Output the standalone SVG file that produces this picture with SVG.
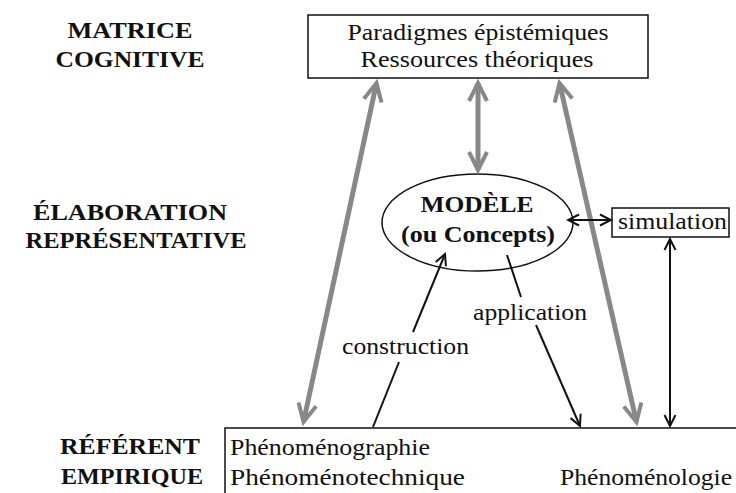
<svg xmlns="http://www.w3.org/2000/svg" width="736" height="493" viewBox="0 0 736 493">
<style>
  text { font-family: "Liberation Serif", Tinos, "Times New Roman", "Nimbus Roman", serif; fill: #111; }
  .b { font-weight: bold; }
  .box { fill: #fff; stroke: #111; stroke-width: 1.5; }
  .g { stroke: #888; stroke-width: 5; fill: none; }
  .k { stroke: #111; stroke-width: 2; fill: none; }
</style>
<defs>
  <marker id="ga" markerUnits="userSpaceOnUse" markerWidth="26" markerHeight="26" viewBox="-22 -13 26 26" refX="0" refY="0" orient="auto-start-reverse">
    <path d="M -18 -9 L 0 0 L -18 9" fill="none" stroke="#888" stroke-width="4" stroke-linejoin="miter"/>
  </marker>
  <marker id="ka" markerUnits="userSpaceOnUse" markerWidth="16" markerHeight="16" viewBox="-14 -8 16 16" refX="0" refY="0" orient="auto-start-reverse">
    <path d="M -11 -5.5 L 0 0 L -11 5.5" fill="none" stroke="#111" stroke-width="2"/>
  </marker>
</defs>

<g id="labels" font-family="Liberation Serif, serif">
  <text class="b" x="130" y="38" font-size="24" text-anchor="middle" textLength="125" lengthAdjust="spacingAndGlyphs">MATRICE</text>
  <text class="b" x="130" y="67" font-size="24" text-anchor="middle" textLength="149" lengthAdjust="spacingAndGlyphs">COGNITIVE</text>
  <text class="b" x="130" y="220" font-size="24" text-anchor="middle" textLength="194" lengthAdjust="spacingAndGlyphs">ÉLABORATION</text>
  <text class="b" x="136" y="248" font-size="24" text-anchor="middle" textLength="221" lengthAdjust="spacingAndGlyphs">REPRÉSENTATIVE</text>
  <text class="b" x="130" y="454" font-size="24" text-anchor="middle" textLength="140" lengthAdjust="spacingAndGlyphs">RÉFÉRENT</text>
  <text class="b" x="132" y="484" font-size="24" text-anchor="middle" textLength="142" lengthAdjust="spacingAndGlyphs">EMPIRIQUE</text>
</g>

<g id="node-matrice">
  <rect class="box" x="308" y="15" width="340" height="63"/>
  <text x="478" y="40" font-size="24" text-anchor="middle" textLength="261" lengthAdjust="spacingAndGlyphs">Paradigmes épistémiques</text>
  <text x="477" y="67" font-size="24" text-anchor="middle" textLength="233" lengthAdjust="spacingAndGlyphs">Ressources théoriques</text>
</g>

<g id="node-modele">
  <ellipse cx="477.5" cy="222.5" rx="95.5" ry="48.5" fill="#fff" stroke="#111" stroke-width="1.5"/>
  <text class="b" x="477" y="212" font-size="24" text-anchor="middle" textLength="113" lengthAdjust="spacingAndGlyphs">MODÈLE</text>
  <text class="b" x="478" y="242" font-size="24" text-anchor="middle" textLength="154" lengthAdjust="spacingAndGlyphs">(ou Concepts)</text>
</g>

<g id="node-simulation">
  <rect class="box" x="612" y="208" width="117" height="29"/>
  <text x="618" y="229" font-size="24" textLength="109" lengthAdjust="spacingAndGlyphs">simulation</text>
</g>

<g id="node-referent">
  <rect class="box" x="225" y="428" width="520" height="80"/>
  <text x="230" y="455" font-size="24" textLength="200" lengthAdjust="spacingAndGlyphs">Phénoménographie</text>
  <text x="230" y="485" font-size="24" textLength="235" lengthAdjust="spacingAndGlyphs">Phénoménotechnique</text>
  <text x="560" y="485" font-size="24" textLength="172" lengthAdjust="spacingAndGlyphs">Phénoménologie</text>
</g>

<g id="connectors">
  <line class="g" x1="376.5" y1="83" x2="303.5" y2="422" marker-start="url(#ga)" marker-end="url(#ga)"/>
  <line class="g" x1="478" y1="83" x2="478" y2="170" marker-start="url(#ga)" marker-end="url(#ga)"/>
  <line class="g" x1="559.5" y1="83" x2="636.5" y2="422" marker-start="url(#ga)" marker-end="url(#ga)"/>
  <line class="k" x1="568" y1="220" x2="611" y2="220" marker-start="url(#ka)" marker-end="url(#ka)"/>
  <line class="k" x1="670" y1="239" x2="670" y2="426" marker-start="url(#ka)" marker-end="url(#ka)"/>
  <line class="k" x1="373" y1="427" x2="399" y2="362"/>
  <line class="k" x1="413" y1="332" x2="445" y2="254" marker-end="url(#ka)"/>
  <line class="k" x1="507" y1="255" x2="521" y2="297"/>
  <line class="k" x1="536" y1="325" x2="580" y2="426" marker-end="url(#ka)"/>
  <text x="405.5" y="354" font-size="24" text-anchor="middle" textLength="127" lengthAdjust="spacingAndGlyphs">construction</text>
  <text x="530" y="320" font-size="24" text-anchor="middle" textLength="114" lengthAdjust="spacingAndGlyphs">application</text>
</g>
</svg>
